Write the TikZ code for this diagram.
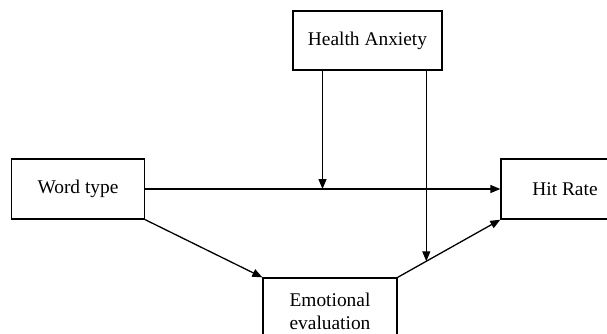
\documentclass[tikz,border=0pt]{standalone}
\usepackage{fontspec}
\setmainfont{Liberation Serif}
\usetikzlibrary{arrows.meta,calc}
\begin{document}
\begin{tikzpicture}[x=1pt,y=-1pt,
  box/.style={draw,line width=1.3pt,rectangle,inner sep=0pt,align=center,
    font=\fontsize{19.4}{23}\selectfont},
  conn/.style={line width=1.3pt,-{Triangle[length=10pt,width=8pt]}},
  plain/.style={line width=1.3pt}]
\useasboundingbox (0,0) rectangle (607,333);
\begin{scope}
\clip (0,0) rectangle (607,333);
\node[box,minimum width=149pt,minimum height=59pt] (HA) at (367.5,40.5) {Health Anxiety};
\node[box,minimum width=133pt,minimum height=60pt] (WT) at (78,189) {Word type};
\node[box,minimum width=128pt,minimum height=60pt] (HR) at (565,189) {Hit Rate};
\node[box,minimum width=134pt,minimum height=66pt] (EE) at (330,311) {Emotional\\evaluation};
\coordinate (m1) at (322.5,189);
\coordinate (m2) at ($(EE.north east)!0.279!(HR.south west)$);
\draw[conn] (WT.east) -- (HR.west);
\draw[conn] (WT.south east) -- (EE.north west);
\draw[conn] (EE.north east) -- (HR.south west);
\draw[conn] (m1 |- HA.south) -- (m1);
\draw[conn] (m2 |- HA.south) -- (m2);
\end{scope}
\end{tikzpicture}
\end{document}
